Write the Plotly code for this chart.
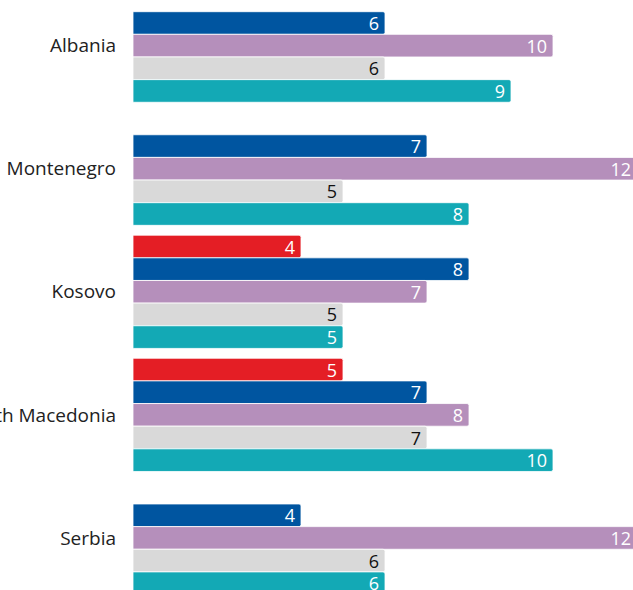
import plotly.graph_objects as go

countries = ["Albania", "Montenegro", "Kosovo", "North Macedonia", "Serbia"]
series_names = ["Series A", "Series B", "Series C", "Series D", "Series E"]
red_vals = [None, None, 4, 5, None]
blue_vals = [6, 7, 8, 7, 4]
purple_vals = [10, 12, 7, 8, 12]
gray_vals = [6, 5, 5, 7, 6]
teal_vals = [9, 8, 5, 10, 6]

colors = ["#E41E25", "#0055A0", "#B58FBB", "#D9D9D9", "#13A9B5"]
text_colors = ["white", "white", "white", "#111111", "white"]
all_vals = [red_vals, blue_vals, purple_vals, gray_vals, teal_vals]

FONT = "Open Sans, Noto Sans, sans-serif"

fig = go.Figure()
for name, vals, c, tc in zip(series_names, all_vals, colors, text_colors):
    fig.add_trace(go.Bar(
        y=countries, x=vals, orientation="h", name=name,
        marker=dict(color=c, line=dict(color="rgba(255,255,255,0.8)", width=1)),
        text=[("" if v is None else str(v) + "\u2009") for v in vals],
        textposition="inside", insidetextanchor="end", textangle=0,
        constraintext="none", cliponaxis=False,
        insidetextfont=dict(color=tc, size=18, family=FONT),
        hoverinfo="x+y+name",
    ))

fig.update_layout(
    width=637, height=590,
    margin=dict(l=133, r=0, t=0, b=0, autoexpand=False),
    barmode="group", bargap=0.08, bargroupgap=0.0,
    barcornerradius=2,
    plot_bgcolor="white", paper_bgcolor="white",
    showlegend=False,
    font=dict(family=FONT, size=18, color="#222222"),
    xaxis=dict(range=[0, 12], visible=False, fixedrange=True, automargin=False),
    yaxis=dict(range=[4.423, -0.371], showgrid=False, showline=False,
               ticks="", ticklabelstandoff=16, automargin=False,
               tickfont=dict(size=19, family=FONT, color="#222222")),
)

fig.write_html(
    "out.html",
    config={"displayModeBar": False},
    post_script="document.body.style.margin='0';document.body.style.overflow='hidden';",
)
